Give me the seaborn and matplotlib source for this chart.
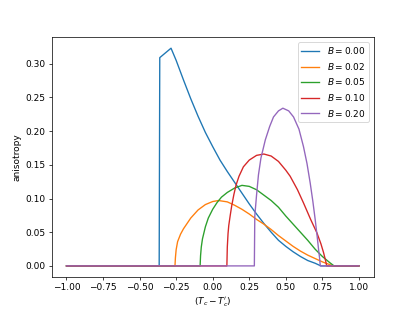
import matplotlib
matplotlib.use("Agg")
import matplotlib.pyplot as plt
import seaborn as sns
import pandas as pd

labels = ["$B = 0.00$", "$B = 0.02$", "$B = 0.05$", "$B = 0.10$", "$B = 0.20$"]

x_b000 = [-1.0, -0.366, -0.362, -0.285, -0.25, -0.20, -0.15, -0.10, -0.05, 0.0, 0.05, 0.10, 0.15, 0.20, 0.25,
          0.30, 0.35, 0.40, 0.45, 0.50, 0.55, 0.60, 0.65, 0.70, 0.74, 1.0]
y_b000 = [0.0, 0.0, 0.309, 0.323, 0.305, 0.276, 0.248, 0.222, 0.198, 0.177, 0.157, 0.140, 0.124, 0.108, 0.092,
          0.077, 0.063, 0.050, 0.038, 0.029, 0.021, 0.014, 0.008, 0.004, 0.0, 0.0]

x_b002 = [-1.0, -0.258, -0.255, -0.25, -0.24, -0.22, -0.20, -0.15, -0.10, -0.05, 0.0, 0.04, 0.10, 0.15, 0.20,
          0.25, 0.30, 0.35, 0.40, 0.45, 0.50, 0.55, 0.60, 0.65, 0.70, 0.75, 0.80, 0.82, 1.0]
y_b002 = [0.0, 0.0, 0.012, 0.024, 0.036, 0.047, 0.055, 0.071, 0.083, 0.091, 0.0955, 0.097, 0.095, 0.090, 0.084,
          0.077, 0.069, 0.062, 0.054, 0.045, 0.037, 0.029, 0.022, 0.016, 0.011, 0.006, 0.002, 0.0, 0.0]

x_b005 = [-1.0, -0.086, -0.083, -0.078, -0.07, -0.05, -0.03, 0.0, 0.03, 0.06, 0.10, 0.15, 0.20, 0.25, 0.30,
          0.35, 0.40, 0.45, 0.50, 0.55, 0.60, 0.65, 0.70, 0.75, 0.80, 0.83, 1.0]
y_b005 = [0.0, 0.0, 0.015, 0.028, 0.040, 0.058, 0.071, 0.084, 0.094, 0.102, 0.109, 0.1155, 0.1195, 0.118, 0.113,
          0.105, 0.097, 0.087, 0.074, 0.062, 0.050, 0.038, 0.025, 0.014, 0.005, 0.0, 0.0]

x_b010 = [-1.0, 0.097, 0.10, 0.105, 0.11, 0.12, 0.13, 0.145, 0.16, 0.18, 0.21, 0.25, 0.30, 0.35, 0.40, 0.45,
          0.50, 0.53, 0.58, 0.621, 0.67, 0.713, 0.74, 0.758, 0.772, 0.78, 1.0]
y_b010 = [0.0, 0.0, 0.028, 0.048, 0.060, 0.075, 0.089, 0.106, 0.120, 0.133, 0.147, 0.157, 0.164, 0.166, 0.163, 0.155,
          0.142, 0.133, 0.113, 0.0935, 0.069, 0.049, 0.033, 0.020, 0.008, 0.0, 0.0]

x_b020 = [-1.0, 0.285, 0.288, 0.30, 0.313, 0.33, 0.36, 0.39, 0.416, 0.45, 0.48, 0.52, 0.553, 0.59, 0.621, 0.645,
          0.667, 0.685, 0.701, 0.715, 0.724, 0.732, 0.736, 1.0]
y_b020 = [0.0, 0.0, 0.074, 0.105, 0.135, 0.16, 0.187, 0.207, 0.221, 0.230, 0.234, 0.230, 0.221, 0.203, 0.177, 0.152,
          0.123, 0.096, 0.069, 0.043, 0.025, 0.010, 0.0, 0.0]

series_x = [x_b000, x_b002, x_b005, x_b010, x_b020]
series_y = [y_b000, y_b002, y_b005, y_b010, y_b020]

rows = []
for lab, xs, ys in zip(labels, series_x, series_y):
    for i, (xv, yv) in enumerate(zip(xs, ys)):
        rows.append({"series": lab, "order": i, "x": xv, "y": yv})
df = pd.DataFrame(rows)

fig, ax = plt.subplots(figsize=(415 / 65, 311 / 65), dpi=65)
sns.lineplot(data=df, x="x", y="y", hue="series", hue_order=labels,
             palette=sns.color_palette("tab10", 5), estimator=None,
             units="series", sort=False, ax=ax, linewidth=1.5)
ax.set_xlabel("$(T_c - T_c')$")
ax.set_ylabel("anisotropy")
ax.set_xticks([-1.0, -0.75, -0.5, -0.25, 0.0, 0.25, 0.5, 0.75, 1.0])
ax.set_xticklabels(["−1.00", "−0.75", "−0.50", "−0.25", "0.00", "0.25", "0.50", "0.75", "1.00"])
ax.set_yticks([0.0, 0.05, 0.10, 0.15, 0.20, 0.25, 0.30])
ax.set_yticklabels(["0.00", "0.05", "0.10", "0.15", "0.20", "0.25", "0.30"])
ax.legend(loc="upper right", title=None)
fig.savefig("out.png", dpi=65)
